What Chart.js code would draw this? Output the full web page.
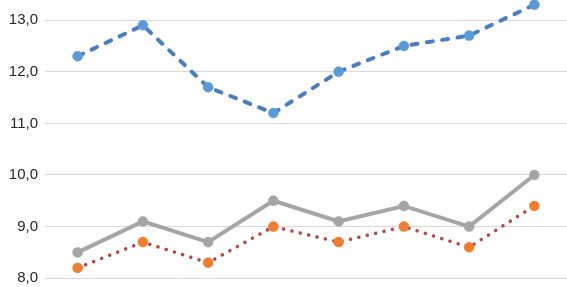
<!DOCTYPE html>
<html><head><meta charset="utf-8">
<script src="https://cdn.jsdelivr.net/npm/chart.js@4"></script>
<style>html,body{margin:0;padding:0;background:#fff}#w{width:567px;height:287px}</style>
</head><body><div id="w"><canvas id="c"></canvas></div>
<script>
const categories = ["1","2","3","4","5","6","7","8"];
const seriesBlue = [12.3, 12.9, 11.7, 11.2, 12.0, 12.5, 12.7, 13.3];
const seriesGray = [8.5, 9.1, 8.7, 9.5, 9.1, 9.4, 9.0, 10.0];
const seriesOrange = [8.2, 8.7, 8.3, 9.0, 8.7, 9.0, 8.6, 9.4];
const yTicks = [8, 9, 10, 11, 12, 13];

new Chart(document.getElementById('c'), {
  type: 'line',
  data: {
    labels: categories,
    datasets: [
      {data: seriesBlue, borderColor:'#4A7EC0', backgroundColor:'#5B9BD5', pointBackgroundColor:'#5B9BD5', pointBorderColor:'#5B9BD5', borderWidth:4, borderDash:[6,9.5], borderCapStyle:'round', pointRadius:5, pointBorderWidth:0.5, clip:false},
      {data: seriesOrange, borderColor:'#B5484B', backgroundColor:'#ED7D31', pointBackgroundColor:'#ED7D31', pointBorderColor:'#ED7D31', borderWidth:3.5, borderDash:[0.1,8.5], borderCapStyle:'round', pointRadius:5, pointBorderWidth:0.5, clip:false},
      {data: seriesGray, borderColor:'#A5A5A5', backgroundColor:'#A5A5A5', pointBackgroundColor:'#A5A5A5', pointBorderColor:'#A5A5A5', borderWidth:4, pointRadius:5, pointBorderWidth:0.5, clip:false}
    ]
  },
  options: {
    responsive:true, maintainAspectRatio:false, animation:false,
    layout:{padding:0, autoPadding:false},
    plugins:{legend:{display:false}, tooltip:{enabled:false}},
    scales:{
      x:{display:false, offset:true},
      y:{min:7.83, max:13.39,
         afterBuildTicks:(s)=>{s.ticks = yTicks.map(v=>({value:v}));},
         afterFit:(s)=>{s.width=45; s.paddingTop=0; s.paddingBottom=0;},
         border:{display:false},
         grid:{color:'#D9D9D9', lineWidth:1, drawTicks:false},
         ticks:{padding:7, color:'#262626', font:{family:'Liberation Sans, Arial', size:15},
           callback:(v)=>Number(v).toFixed(1).replace('.',',')}
      }
    }
  }
});
</script></body></html>
